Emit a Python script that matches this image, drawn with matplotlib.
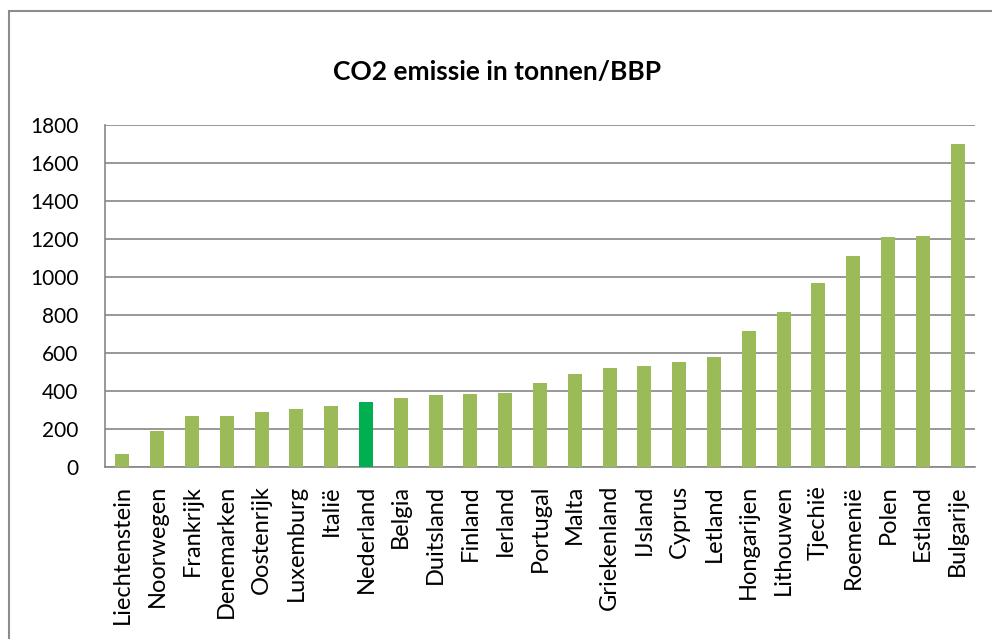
import matplotlib.pyplot as plt
from matplotlib.patches import Rectangle
from matplotlib.font_manager import FontProperties

landen = ['Liechtenstein', 'Noorwegen', 'Frankrijk', 'Denemarken', 'Oostenrijk',
          'Luxemburg', 'Italië', 'Nederland', 'Belgia', 'Duitsland', 'Finland',
          'Ierland', 'Portugal', 'Malta', 'Griekenland', 'IJsland', 'Cyprus',
          'Letland', 'Hongarijen', 'Lithouwen', 'Tjechië', 'Roemenië', 'Polen',
          'Estland', 'Bulgarije']
emissie = [66, 188, 271, 271, 288, 304, 319, 344, 363, 381, 386, 388, 440,
           489, 519, 533, 554, 577, 718, 814, 968, 1112, 1213, 1215, 1702]
highlight = 'Nederland'
yticks = [0, 200, 400, 600, 800, 1000, 1200, 1400, 1600, 1800]

kleuren = ['#00B050' if l == highlight else '#9BBB59' for l in landen]

fig = plt.figure(figsize=(9.92, 6.39), dpi=100)
ax = fig.add_axes([105 / 992, (639 - 467) / 639, 870 / 992, 342 / 639])

x = range(len(landen))
ax.bar(x, emissie, width=0.4, color=kleuren, zorder=3)
ax.set_xlim(-0.5, len(landen) - 0.5)
ax.set_ylim(0, 1800)
ax.set_yticks(yticks)
ax.set_yticklabels([str(v) for v in yticks])
ax.set_xticks(list(x))
ax.set_xticklabels(landen, rotation=90)
for lab in ax.get_yticklabels():
    lab.set_fontproperties(FontProperties(family='Lato', size=15))
for lab in ax.get_xticklabels():
    lab.set_fontproperties(FontProperties(family='Lato', size=17))
ax.tick_params(axis='y', length=0, pad=19)
ax.tick_params(axis='x', length=0, pad=13)
ax.grid(axis='y', color='#868686', linewidth=1.2, zorder=0)
for s in ['top', 'right']:
    ax.spines[s].set_visible(False)
for s in ['left', 'bottom']:
    ax.spines[s].set_color('#868686')
    ax.spines[s].set_linewidth(1.2)

fig.text(497 / 992, 1 - 72 / 639, 'CO2 emissie in tonnen/BBP', ha='center', va='center',
         fontsize=19, fontweight='bold', family='Lato')

fig.patches.append(Rectangle((8.5 / 992, -0.1), 1.2, 1 - 11 / 639 + 0.1,
                             transform=fig.transFigure, fill=False,
                             edgecolor='#8c8c8c', linewidth=1.5))

fig.savefig('out.png', dpi=100)
